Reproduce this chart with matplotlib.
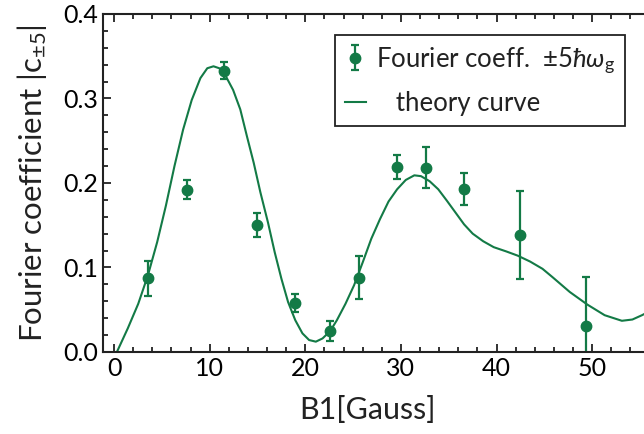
import matplotlib
matplotlib.use("Agg")
import matplotlib.pyplot as plt
from matplotlib.ticker import MultipleLocator, FormatStrFormatter

# measured Fourier coefficients
b_field = [3.6, 7.6, 11.5, 15.0, 18.9, 22.6, 25.6, 29.6, 32.6, 36.6, 42.4, 49.4]
coeff = [0.087, 0.192, 0.333, 0.150, 0.058, 0.025, 0.088, 0.219, 0.218, 0.193, 0.138, 0.031]
coeff_err = [0.021, 0.011, 0.010, 0.014, 0.011, 0.012, 0.025, 0.014, 0.024, 0.019, 0.052, 0.058]

# theory curve
theory_b = [0.3, 1.44, 2.53, 3.54, 4.51, 5.42, 6.32, 7.22, 8.12, 9.03, 9.75, 10.4, 11.0,
            11.7, 12.45, 13.2, 13.9, 14.6, 15.3, 16.1, 16.8, 17.5, 18.2, 18.95, 19.7,
            20.4, 21.1, 21.8, 22.6, 23.3, 24.2, 25.1, 26.0, 26.9, 27.8, 28.7, 29.6,
            30.5, 31.4, 32.1, 33.0, 33.9, 34.8, 35.7, 36.6, 37.5, 38.6, 39.7, 41.0,
            42.2, 43.5, 44.8, 45.85, 47.65, 49.5, 51.3, 53.1, 54.2, 55.2, 55.8]
theory_c = [0.0, 0.028, 0.057, 0.0906, 0.130, 0.173, 0.220, 0.263, 0.298, 0.324, 0.3357, 0.338, 0.3357,
            0.326, 0.310, 0.287, 0.255, 0.224, 0.189, 0.153, 0.118, 0.0867, 0.059, 0.0376, 0.022,
            0.0141, 0.0122, 0.016, 0.0247, 0.0376, 0.057, 0.079, 0.106, 0.134, 0.157, 0.178, 0.1925,
            0.2035, 0.209, 0.208, 0.202, 0.1925, 0.179, 0.165, 0.151, 0.140, 0.131, 0.124, 0.119,
            0.114, 0.107, 0.0984, 0.0885, 0.071, 0.056, 0.0435, 0.0369, 0.0384, 0.0435, 0.047]

green = "#137a46"

plt.rcParams['font.family'] = ['Lato', 'DejaVu Sans']
plt.rcParams['mathtext.fontset'] = 'custom'
plt.rcParams['mathtext.rm'] = 'Lato'
plt.rcParams['mathtext.it'] = 'Lato:italic'
plt.rcParams['mathtext.fallback'] = 'stixsans'

fig = plt.figure(figsize=(6.44, 4.34), dpi=100)
ax = fig.add_axes([0.16, 0.189, 0.845, 0.779])

ax.plot(theory_b, theory_c, color=green, lw=1.5, label="   theory curve")
ax.errorbar(b_field, coeff, yerr=coeff_err, fmt="o", color=green, ms=7.5,
            elinewidth=1.6, capsize=3, capthick=1.6,
            label="Fourier coeff.  $\\pm5\\hbar\\omega_\\mathregular{g}$")

ax.set_xlim(-1.15, 55.75)
ax.set_ylim(0, 0.4)
ax.xaxis.set_major_locator(MultipleLocator(10))
ax.xaxis.set_minor_locator(MultipleLocator(2))
ax.yaxis.set_major_locator(MultipleLocator(0.1))
ax.yaxis.set_minor_locator(MultipleLocator(0.02))
ax.yaxis.set_major_formatter(FormatStrFormatter("%.1f"))
ax.tick_params(which="both", direction="in", top=True, right=False, colors="#222222",
               labelcolor="black", labelsize=18, width=1.3)
ax.tick_params(which="major", length=6)
ax.tick_params(which="minor", length=3.5)
for s in ax.spines.values():
    s.set_linewidth(1.5)
    s.set_color("#222222")

ax.set_xlabel("B1[Gauss]", fontsize=22, color="#222222")
ax.set_ylabel("Fourier coefficient |c$_\\mathregular{\\pm5}$|", fontsize=22.5, color="#222222")
ax.xaxis.set_label_coords(0.486, -0.13)
ax.yaxis.set_label_coords(-0.10, 0.5)

handles, labels = ax.get_legend_handles_labels()
leg = ax.legend(handles[::-1], labels[::-1], loc="upper right",
                bbox_to_anchor=(0.96, 0.938), borderaxespad=0, fontsize=18.5,
                fancybox=False, edgecolor="#222222", framealpha=1,
                handlelength=0.8, handletextpad=0.4, borderpad=0.4, labelspacing=0.6)
leg.get_frame().set_linewidth(1.3)
for t in leg.get_texts():
    t.set_color("#222222")

fig.savefig("out.png", dpi=100)
